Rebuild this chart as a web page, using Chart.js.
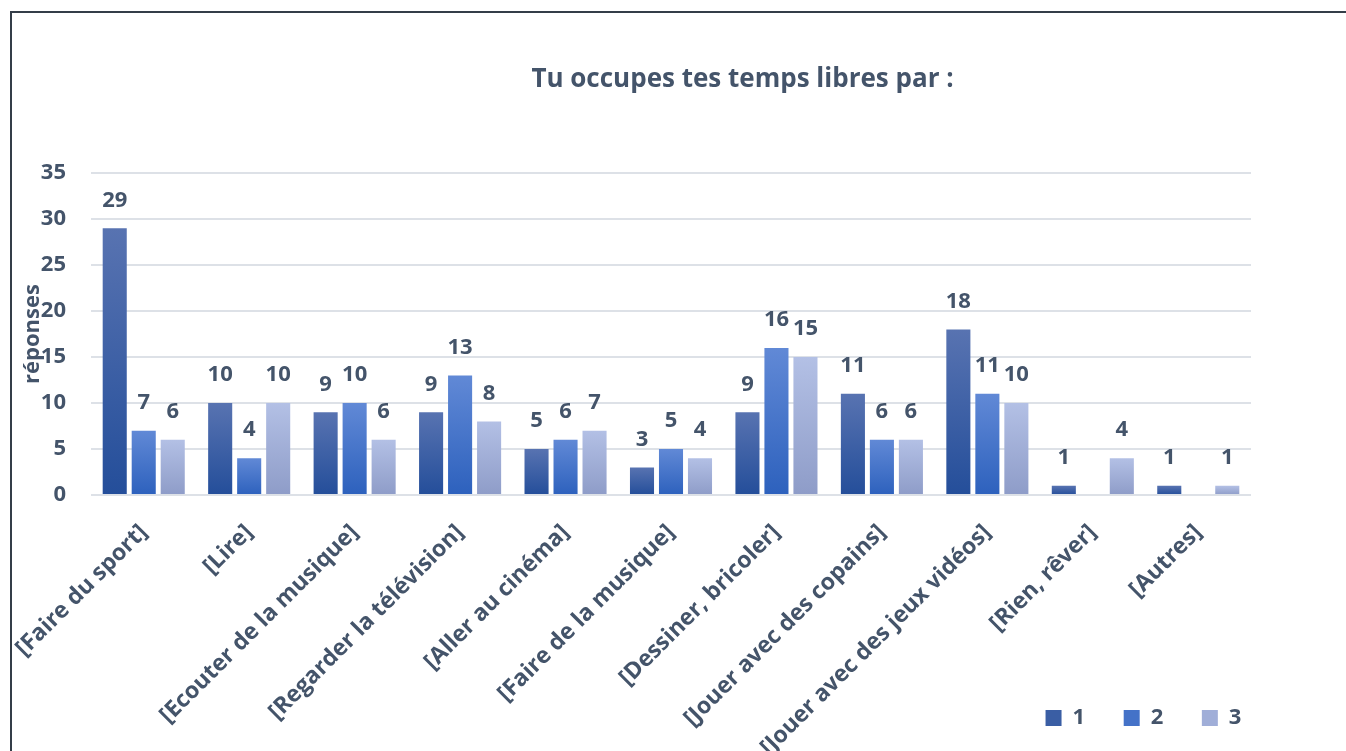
<!DOCTYPE html>
<html>
<head>
<meta charset="utf-8">
<script src="https://cdn.jsdelivr.net/npm/chart.js@4/dist/chart.umd.min.js"></script>
<style>
  body { margin: 0; background: #fff; }
  #wrap { position: relative; width: 1346px; height: 751px; overflow: hidden; }
  #frame { position: absolute; left: 10px; top: 11px; width: 1400px; height: 800px;
           border-left: 2px solid #343d48; border-top: 2px solid #343d48; pointer-events: none; }
</style>
</head>
<body>
<div id="wrap">
  <canvas id="chart" width="1346" height="751"></canvas>
  <div id="frame"></div>
</div>
<script>
// categories and series
var categories = ['[Faire du sport]', '[Lire]', '[Ecouter de la musique]', '[Regarder la télévision]',
  '[Aller au cinéma]', '[Faire de la musique]', '[Dessiner, bricoler]', '[Jouer avec des copains]',
  '[Jouer avec des jeux vidéos]', '[Rien, rêver]', '[Autres]'];
var serie1 = [29, 10, 9, 9, 5, 3, 9, 11, 18, 1, 1];
var serie2 = [7, 4, 10, 13, 6, 5, 16, 6, 11, null, null];
var serie3 = [6, 10, 6, 8, 7, 4, 15, 6, 10, 4, 1];
var seriesNames = ['1', '2', '3'];

var textColor = '#44546a';
var font = 'Open Sans';

// gradient per bar, lighter on top
function barGradient(top, bottom) {
  return function (c) {
    var chart = c.chart;
    if (c.type !== 'data' || !chart.chartArea || c.raw == null) return bottom;
    var y = chart.scales.y;
    var y0 = y.getPixelForValue(c.raw), y1 = y.getPixelForValue(0);
    if (!isFinite(y0) || y1 - y0 < 1) return bottom;
    var g = chart.ctx.createLinearGradient(0, y0, 0, y1);
    g.addColorStop(0, top);
    g.addColorStop(1, bottom);
    return g;
  };
}

var legendColors = ['#3a5ea4', '#4472c8', '#a0aed8'];

var valueLabels = {
  id: 'valueLabels',
  afterDatasetsDraw: function (chart) {
    var ctx = chart.ctx;
    ctx.save();
    ctx.font = 'bold 22px "' + font + '"';
    ctx.fillStyle = textColor;
    ctx.textAlign = 'center';
    ctx.textBaseline = 'middle';
    chart.data.datasets.forEach(function (ds, i) {
      var meta = chart.getDatasetMeta(i);
      meta.data.forEach(function (bar, j) {
        var v = ds.data[j];
        if (v == null) return;
        ctx.fillText(String(v), bar.x, bar.y - 28);
      });
    });
    ctx.restore();
  }
};

// title off-centre, legend a bit right, x labels allowed to run to the bottom
var shiftBoxes = {
  id: 'shiftBoxes',
  afterLayout: function (chart) {
    if (chart.titleBlock) { chart.titleBlock.left += 117; chart.titleBlock.right += 117; }
    if (chart.legend) { chart.legend.left += 29; chart.legend.right += 29; }
    var x = chart.scales.x;
    x.bottom = chart.height;
    x.height = x.bottom - x.top;
  }
};

new Chart(document.getElementById('chart'), {
  type: 'bar',
  data: {
    labels: categories,
    datasets: [
      { label: seriesNames[0], data: serie1, backgroundColor: barGradient('#5873b1', '#244e9a') },
      { label: seriesNames[1], data: serie2, backgroundColor: barGradient('#6189d6', '#2d61bd') },
      { label: seriesNames[2], data: serie3, backgroundColor: barGradient('#b3c0e5', '#8e9cc8') }
    ]
  },
  plugins: [valueLabels, shiftBoxes],
  options: {
    responsive: false,
    animation: false,
    layout: { padding: { top: 0, left: 0, right: 95, bottom: 12 } },
    categoryPercentage: 0.825,
    barPercentage: 0.83,
    plugins: {
      title: {
        display: true,
        text: 'Tu occupes tes temps libres par :',
        color: textColor,
        font: { family: font, size: 26, weight: 'bold' },
        padding: { top: 64, bottom: 78 }
      },
      legend: {
        position: 'bottom',
        align: 'end',
        labels: {
          color: textColor,
          font: { family: font, size: 22, weight: 'bold' },
          boxWidth: 16,
          boxHeight: 16,
          padding: 10,
          generateLabels: function (chart) {
            var items = Chart.defaults.plugins.legend.labels.generateLabels(chart);
            items.forEach(function (it, i) {
              it.text = it.text + '     ';
              it.fillStyle = legendColors[i];
              it.strokeStyle = legendColors[i];
              it.lineWidth = 0;
            });
            return items;
          }
        }
      },
      tooltip: { enabled: false }
    },
    scales: {
      x: {
        grid: { display: false, drawTicks: false },
        border: { display: false },
        ticks: {
          color: textColor,
          font: { family: font, size: 23, weight: 'bold' },
          autoSkip: false,
          maxRotation: 45,
          minRotation: 45,
          padding: 24
        },
        afterFit: function (scale) {
          var lg = scale.chart.legend ? scale.chart.legend.height : 0;
          scale.height = 751 - 495 - lg - 12;
          scale.paddingLeft = 0;
          scale.paddingRight = 0;
        }
      },
      y: {
        min: 0,
        max: 35,
        grid: { color: '#dde1e7', lineWidth: 2, drawTicks: false },
        border: { display: false },
        ticks: {
          stepSize: 5,
          color: textColor,
          font: { family: font, size: 22, weight: 'bold' },
          padding: 25
        },
        title: {
          display: true,
          text: 'réponses',
          color: textColor,
          font: { family: font, size: 22, weight: 'bold' },
          padding: { top: 20, bottom: 0 }
        },
        afterFit: function (scale) { scale.width = 91; }
      }
    }
  }
});
</script>
</body>
</html>
